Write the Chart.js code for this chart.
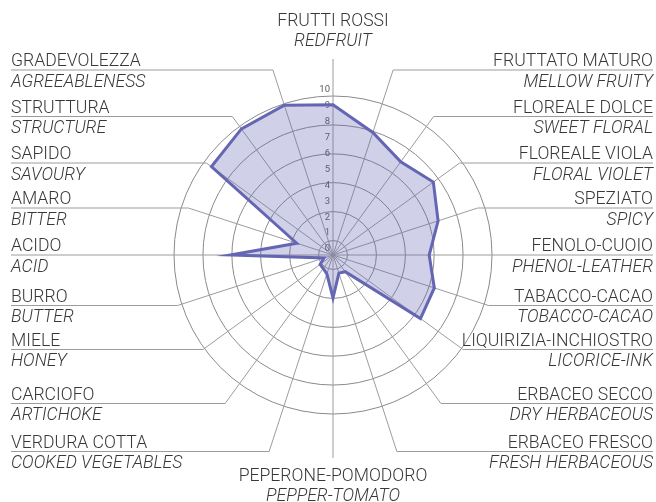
<!DOCTYPE html>
<html>
<head>
<meta charset="utf-8">
<script src="https://cdn.jsdelivr.net/npm/chart.js@4.4.1/dist/chart.umd.min.js"></script>
<style>
  html, body { margin: 0; padding: 0; background: #fff; }
  #wrap { width: 656px; height: 502px; }
</style>
</head>
<body>
<div id="wrap"><canvas id="radar" width="656" height="502"></canvas></div>
<script>
// axis names, clockwise from the top
var labelsIt = [
  'FRUTTI ROSSI', 'FRUTTATO MATURO', 'FLOREALE DOLCE', 'FLOREALE VIOLA', 'SPEZIATO',
  'FENOLO-CUOIO', 'TABACCO-CACAO', 'LIQUIRIZIA-INCHIOSTRO', 'ERBACEO SECCO', 'ERBACEO FRESCO',
  'PEPERONE-POMODORO', 'VERDURA COTTA', 'CARCIOFO', 'MIELE', 'BURRO',
  'ACIDO', 'AMARO', 'SAPIDO', 'STRUTTURA', 'GRADEVOLEZZA'
];
var labelsEn = [
  'REDFRUIT', 'MELLOW FRUITY', 'SWEET FLORAL', 'FLORAL VIOLET', 'SPICY',
  'PHENOL-LEATHER', 'TOBACCO-CACAO', 'LICORICE-INK', 'DRY HERBACEOUS', 'FRESH HERBACEOUS',
  'PEPPER-TOMATO', 'COOKED VEGETABLES', 'ARTICHOKE', 'HONEY', 'BUTTER',
  'ACID', 'BITTER', 'SAVOURY', 'STRUCTURE', 'AGREEABLENESS'
];
var scores = [
  9.45, 8.1, 7.25, 7.8, 6.95,
  6.05, 6.7, 6.8, 1.3, 1.2,
  2.7, 1.25, 1.05, 1.0, 0.6,
  6.45, 2.4, 9.45, 9.8, 9.9
];
var tickValues = [0, 1, 2, 3, 4, 5, 6, 7, 8, 9, 10];
var ringValues = [0.91, 2.73, 4.55, 6.36, 8.18, 10];

// label rows (y of the leader line), same on both sides, top to bottom
var ROWS = [70, 116.5, 163, 208, 255, 305.5, 349.5, 403.5, 451.5];
var LEFT_X = 11, RIGHT_X = 653;
var TEXT = '#383838';
var FONT = '300 17.6px Roboto';
var FONT_EN = 'italic 300 17.6px Roboto';

var leaderPlugin = {
  id: 'leaders',
  beforeDatasetsDraw: function(chart) {
    var r = chart.scales.r, ctx = chart.ctx;
    var n = labelsIt.length;
    ctx.save();

    // rings
    ctx.strokeStyle = '#8a8a8a';
    ctx.lineWidth = 1;
    ringValues.forEach(function(v) {
      var d = r.getDistanceFromCenterForValue(v);
      ctx.beginPath();
      ctx.arc(r.xCenter, r.yCenter, d, 0, Math.PI * 2);
      ctx.stroke();
    });

    // spokes bent into leader lines
    ctx.strokeStyle = '#9c9c9c';
    for (var i = 0; i < n; i++) {
      var a = r.getIndexAngle(i) - Math.PI / 2;
      var c = r.getPointPosition(i, 0);
      ctx.beginPath();
      ctx.moveTo(c.x, c.y);
      if (i === 0 || i === n / 2) {
        var endY = i === 0 ? 59 : 458;
        var p0 = r.getPointPosition(i, (endY - r.yCenter) / Math.sin(a));
        ctx.lineTo(p0.x, p0.y);
      } else {
        var right = i < n / 2;
        var row = right ? i - 1 : n - 1 - i;
        var y = ROWS[row];
        var s = Math.sin(a);
        if (Math.abs(s) > 1e-6) {
          var p = r.getPointPosition(i, (y - r.yCenter) / s);
          ctx.lineTo(p.x, p.y);
        } else {
          y = r.yCenter;
        }
        ctx.lineTo(right ? RIGHT_X : LEFT_X, y);
      }
      ctx.stroke();
    }

    // tick numbers
    ctx.fillStyle = '#5a5a5a';
    ctx.font = '9.5px Roboto';
    ctx.textAlign = 'right';
    ctx.textBaseline = 'middle';
    tickValues.forEach(function(v) {
      var d = r.getDistanceFromCenterForValue(v);
      ctx.fillText(String(v), r.xCenter - 3, r.yCenter - d - 6);
    });

    // axis labels
    ctx.fillStyle = TEXT;
    ctx.textBaseline = 'alphabetic';
    for (var j = 0; j < n; j++) {
      var x, yIt, yEn;
      if (j === 0 || j === n / 2) {
        ctx.textAlign = 'center';
        x = r.xCenter;
        yIt = j === 0 ? 26 : 481;
        yEn = yIt + 19.5;
      } else {
        var rt = j < n / 2;
        var rw = rt ? j - 1 : n - 1 - j;
        ctx.textAlign = rt ? 'right' : 'left';
        x = rt ? RIGHT_X : LEFT_X;
        var ly = (rw === 4) ? r.yCenter : ROWS[rw];
        yIt = ly - 4;
        yEn = ly + 16.5;
      }
      ctx.font = FONT;
      ctx.fillText(labelsIt[j], x, yIt);
      ctx.font = FONT_EN;
      ctx.fillText(labelsEn[j], x, yEn);
    }
    ctx.restore();
  }
};

new Chart(document.getElementById('radar'), {
  type: 'radar',
  data: {
    labels: labelsIt,
    datasets: [{
      data: scores,
      borderColor: '#6566b3',
      backgroundColor: 'rgba(100,100,180,0.3)',
      borderWidth: 3,
      pointRadius: 0,
      pointHoverRadius: 0,
      tension: 0
    }]
  },
  options: {
    responsive: false,
    animation: false,
    layout: { padding: { left: 174, right: 164, top: 96, bottom: 88 } },
    plugins: { legend: { display: false }, tooltip: { enabled: false } },
    scales: {
      r: {
        min: 0,
        max: 10,
        ticks: { display: false, stepSize: 1 },
        grid: { display: false },
        angleLines: { display: false },
        pointLabels: { display: false }
      }
    }
  },
  plugins: [leaderPlugin]
});
</script>
</body>
</html>
